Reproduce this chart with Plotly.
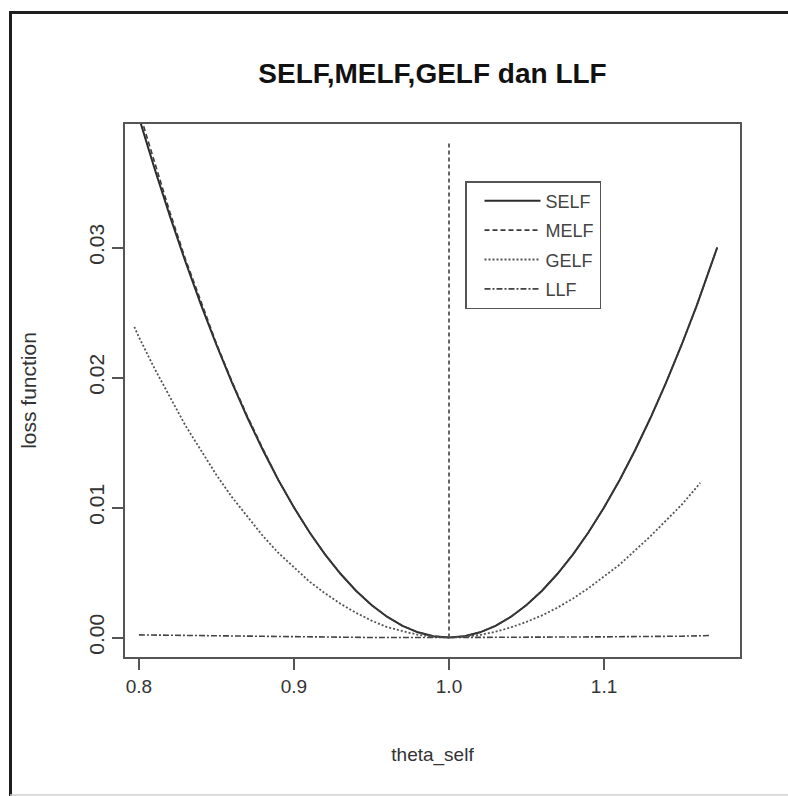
import plotly.graph_objects as go

# ---- data ----
theta = [0.80, 0.81, 0.82, 0.83, 0.84, 0.85, 0.86, 0.87, 0.88, 0.89,
         0.90, 0.91, 0.92, 0.93, 0.94, 0.95, 0.96, 0.97, 0.98, 0.99,
         1.00, 1.01, 1.02, 1.03, 1.04, 1.05, 1.06, 1.07, 1.08, 1.09,
         1.10, 1.11, 1.12, 1.13, 1.14, 1.15, 1.16, 1.173]
self_loss = [0.0400, 0.0361, 0.0324, 0.0289, 0.0256, 0.0225, 0.0196, 0.0169, 0.0144, 0.0121,
             0.0100, 0.0081, 0.0064, 0.0049, 0.0036, 0.0025, 0.0016, 0.0009, 0.0004, 0.0001,
             0.0000, 0.0001, 0.0004, 0.0009, 0.0016, 0.0025, 0.0036, 0.0049, 0.0064, 0.0081,
             0.0100, 0.0121, 0.0144, 0.0169, 0.0196, 0.0225, 0.0256, 0.0300]
melf_loss = [0.0405, 0.0365, 0.0327, 0.0291, 0.0258, 0.0226, 0.0197, 0.0170, 0.0145, 0.0121,
             0.0100, 0.0081, 0.0064, 0.0049, 0.0036, 0.0025, 0.0016, 0.0009, 0.0004, 0.0001,
             0.0000, 0.0001, 0.0004, 0.0009, 0.0016, 0.0025, 0.0036, 0.0049, 0.0064, 0.0081,
             0.0100, 0.0121, 0.0144, 0.0169, 0.0196, 0.0225, 0.0256, 0.0300]
melf_vline_x = [1.0, 1.0]
melf_vline_y = [0.0, 0.0380]

theta_gelf = [0.797, 0.80, 0.81, 0.82, 0.83, 0.84, 0.85, 0.86, 0.87, 0.88, 0.89,
              0.90, 0.91, 0.92, 0.93, 0.94, 0.95, 0.96, 0.97, 0.98, 0.99,
              1.00, 1.01, 1.02, 1.03, 1.04, 1.05, 1.06, 1.07, 1.08, 1.09,
              1.10, 1.11, 1.12, 1.13, 1.14, 1.15, 1.16, 1.162]
gelf_loss = [0.0239, 0.0231, 0.0207, 0.0185, 0.0163, 0.0144, 0.0125, 0.0108, 0.0093, 0.0078, 0.0065,
             0.0054, 0.0043, 0.0034, 0.0026, 0.0019, 0.0013, 0.0008, 0.0005, 0.0002, 0.00005,
             0.0000, 0.00005, 0.0002, 0.00044, 0.00078, 0.0012, 0.0017, 0.0023, 0.0030, 0.0038,
             0.0047, 0.0056, 0.0067, 0.0078, 0.0090, 0.0102, 0.0116, 0.0119]

theta_llf = [0.80, 0.85, 0.90, 0.95, 1.00, 1.05, 1.10, 1.15, 1.168]
llf_loss = [0.0002, 0.00012, 0.00005, 0.0, 0.0, 0.0, 0.00005, 0.0001, 0.00015]

x_ticks = [0.8, 0.9, 1.0, 1.1]
x_ticklabels = ["0.8", "0.9", "1.0", "1.1"]
y_ticks = [0.00, 0.01, 0.02, 0.03]
y_ticklabels = ["0.00", "0.01", "0.02", "0.03"]

FONT = "Liberation Sans, Arial, sans-serif"

fig = go.Figure()
fig.add_trace(go.Scatter(x=theta, y=self_loss, mode="lines", name="SELF",
                         legendgroup="a", line=dict(color="#2b2b2b", width=2, dash="solid")))
fig.add_trace(go.Scatter(x=theta, y=melf_loss, mode="lines", name="MELF",
                         legendgroup="b", line=dict(color="#3a3a3a", width=1.6, dash="5px,3px")))
fig.add_trace(go.Scatter(x=melf_vline_x, y=melf_vline_y, mode="lines", name="MELF",
                         legendgroup="b", showlegend=False,
                         line=dict(color="#555555", width=1.8, dash="4px,3px")))
fig.add_trace(go.Scatter(x=theta_gelf, y=gelf_loss, mode="lines", name="GELF",
                         legendgroup="c", line=dict(color="#555555", width=1.8, dash="2px,2px")))
fig.add_trace(go.Scatter(x=theta_llf, y=llf_loss, mode="lines", name="LLF",
                         legendgroup="d", line=dict(color="#444444", width=1.6, dash="6px,2px,2px,2px")))

# figure pixel geometry: plot area 125..740 x, 124..657 y
L, R, T, B = 125, 740, 124, 657
W, H = 788, 796
def px(xp):
    return (xp - L) / (R - L)
def py(yp):
    return (B - yp) / (B - T)

shapes = [
    dict(type="line", xref="paper", yref="paper", x0=px(10.5), x1=px(10.5), y0=py(12), y1=py(800),
         line=dict(color="#1e1e1e", width=3)),
    dict(type="line", xref="paper", yref="paper", x0=px(9), x1=px(800), y0=py(12.5), y1=py(12.5),
         line=dict(color="#1e1e1e", width=3)),
    dict(type="line", xref="paper", yref="paper", x0=px(10), x1=px(800), y0=py(795), y1=py(795),
         line=dict(color="#cfcfcf", width=1.5)),
]

fig.update_layout(
    width=W, height=H,
    margin=dict(l=L, r=W - R, t=T, b=H - B, pad=0),
    paper_bgcolor="white", plot_bgcolor="white",
    font=dict(family=FONT, color="#333333", size=19),
    title=dict(text="<b>SELF,MELF,GELF dan LLF</b>", x=(L + R) / 2 / W, xanchor="center",
               y=1 - 73 / H, yanchor="middle",
               font=dict(family=FONT, size=28, color="#111111")),
    xaxis=dict(range=[0.791, 1.1877], tickvals=x_ticks, ticktext=x_ticklabels,
               showgrid=False, zeroline=False, showline=True, mirror=True,
               linecolor="#555555", linewidth=2, ticks="outside", ticklen=11,
               tickcolor="#555555", tickwidth=1.5,
               tickfont=dict(size=19, color="#333333"),
               title=dict(text="theta_self", standoff=52, font=dict(size=19, color="#333333"))),
    yaxis=dict(range=[-0.0015, 0.0395], tickvals=y_ticks, ticktext=y_ticklabels,
               showgrid=False, zeroline=False, showline=True, mirror=True,
               linecolor="#555555", linewidth=2, ticks="outside", ticklen=11,
               tickcolor="#555555", tickwidth=1.5, tickangle=-90,
               tickfont=dict(size=21, color="#333333"),
               title=dict(text="loss function", standoff=42, font=dict(size=21, color="#333333"))),
    legend=dict(x=px(465), y=py(181), xanchor="left", yanchor="top",
                bgcolor="white", bordercolor="#555555", borderwidth=1.5,
                font=dict(family=FONT, size=18, color="#444444"),
                traceorder="grouped", tracegroupgap=3, itemwidth=56,
                indentation=13, entrywidth=150, entrywidthmode="pixels"),
    shapes=shapes,
    showlegend=True,
)

fig.write_html("out.html")
